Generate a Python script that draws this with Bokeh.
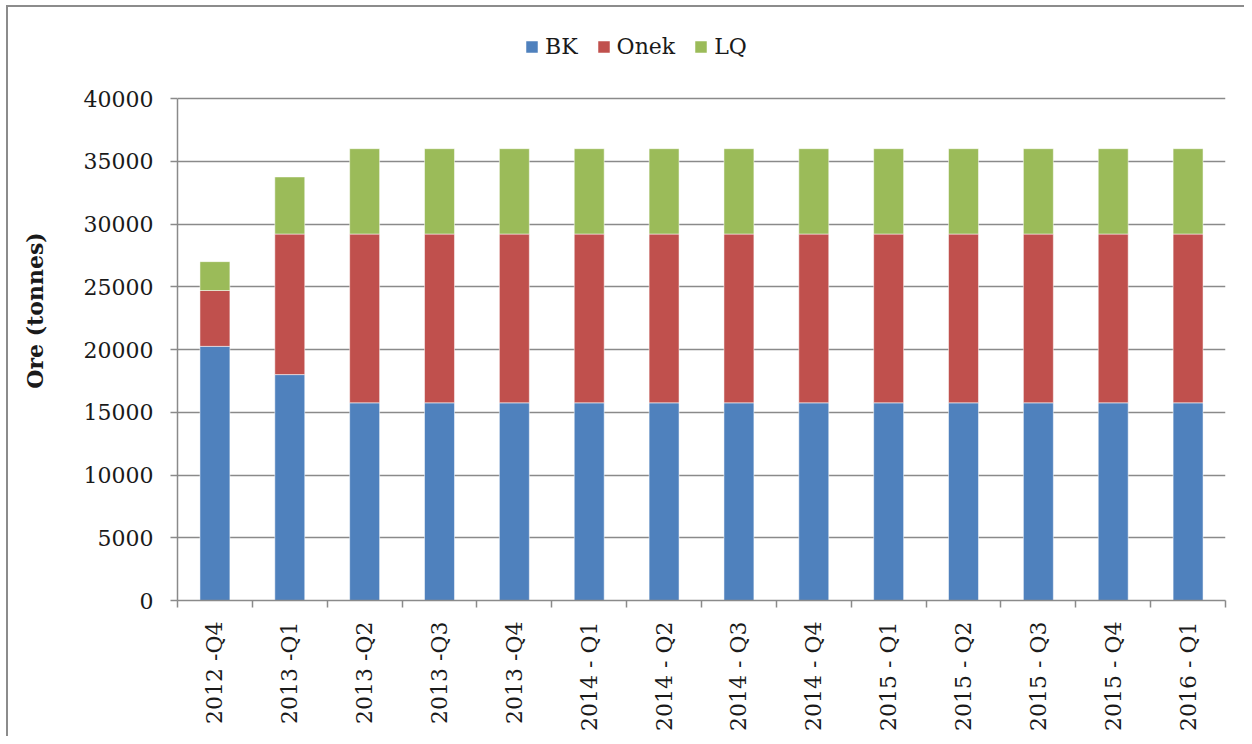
import math
from bokeh.plotting import figure
from bokeh.models import ColumnDataSource, FixedTicker, Range1d, Legend, LegendItem
from bokeh.embed import file_html
from bokeh.resources import INLINE

quarters = ["2012 -Q4", "2013 -Q1", "2013 -Q2", "2013 -Q3", "2013 -Q4",
            "2014 - Q1", "2014 - Q2", "2014 - Q3", "2014 - Q4",
            "2015 - Q1", "2015 - Q2", "2015 - Q3", "2015 - Q4", "2016 - Q1"]
bk = [20250, 18000, 15750, 15750, 15750, 15750, 15750, 15750, 15750, 15750, 15750, 15750, 15750, 15750]
onek = [4450, 11200, 13450, 13450, 13450, 13450, 13450, 13450, 13450, 13450, 13450, 13450, 13450, 13450]
lq = [2300, 4550, 6800, 6800, 6800, 6800, 6800, 6800, 6800, 6800, 6800, 6800, 6800, 6800]
series = ["BK", "Onek", "LQ"]
colors = ["#4F81BD", "#C0504D", "#9BBB59"]
y_ticks = [0, 5000, 10000, 15000, 20000, 25000, 30000, 35000, 40000]

xs = [i + 0.5 for i in range(len(quarters))]
src = ColumnDataSource(dict(x=xs, BK=bk, Onek=onek, LQ=lq))

FONT = "DejaVu Serif"
GRID = "#8a8a8a"
TXT = "#1a1a1a"

# frame spans extra room above 40000 so the legend can sit inside it
PLOT_H = 502      # pixel height of 0..40000
EXTRA = 78        # pixels above 40000 for the legend
y_top = y_ticks[-1] * (PLOT_H + EXTRA) / PLOT_H

p = figure(width=1244, height=736, output_backend="svg", toolbar_location=None,
           x_range=Range1d(0, len(quarters)), y_range=Range1d(0, y_top),
           min_border_left=177, min_border_right=19, min_border_top=98 - EXTRA,
           min_border_bottom=136)
p.styles = {"background": "linear-gradient(#8c8c8c, #8c8c8c) 6px 5px / 2px 100% no-repeat, "
                          "linear-gradient(#8c8c8c, #8c8c8c) 6px 5px / 100% 2px no-repeat, white"}
p.outline_line_color = None
p.background_fill_color = "white"
p.border_fill_alpha = 0

rs = p.vbar_stack(series, x="x", width=0.4, source=src, fill_color=colors,
                  line_color="white", line_alpha=0.5, line_width=1)

# x axis
xa = p.xaxis[0]
xa.ticker = FixedTicker(ticks=xs, minor_ticks=list(range(len(quarters) + 1)))
xa.major_label_overrides = {x: q for x, q in zip(xs, quarters)}
xa.major_label_orientation = math.pi / 2
xa.major_tick_in = 0
xa.major_tick_out = 0
xa.major_tick_line_color = None
xa.minor_tick_in = 0
xa.minor_tick_out = 7
xa.minor_tick_line_color = GRID
xa.minor_tick_line_width = 1.5
xa.axis_line_color = GRID
xa.axis_line_width = 1.5
xa.major_label_standoff = 14
xa.major_label_text_font = FONT
xa.major_label_text_font_size = "22px"
xa.major_label_text_color = TXT

# y axis
ya = p.yaxis[0]
ya.ticker = FixedTicker(ticks=y_ticks)
ya.bounds = (y_ticks[0], y_ticks[-1])
ya.major_tick_in = 0
ya.major_tick_out = 7
ya.major_tick_line_color = GRID
ya.major_tick_line_width = 1.5
ya.minor_tick_line_color = None
ya.axis_line_color = GRID
ya.axis_line_width = 1.5
ya.major_label_standoff = 17
ya.major_label_text_font = FONT
ya.major_label_text_font_size = "22px"
ya.major_label_text_color = TXT
ya.axis_label = "Ore (tonnes)"
ya.axis_label_text_font = FONT
ya.axis_label_text_font_style = "bold"
ya.axis_label_text_font_size = "22px"
ya.axis_label_text_color = TXT
ya.axis_label_standoff = 33

p.xgrid.visible = False
p.ygrid.ticker = FixedTicker(ticks=y_ticks)
p.ygrid.grid_line_color = GRID
p.ygrid.grid_line_width = 1.5

legend = Legend(items=[LegendItem(label=s, renderers=[r]) for s, r in zip(series, rs)],
                orientation="horizontal", location=(347, 541),
                glyph_width=15, glyph_height=15, label_standoff=6, spacing=18,
                padding=0, margin=0, border_line_color=None, background_fill_alpha=0,
                label_text_font=FONT, label_text_font_size="22px", label_text_color=TXT)
p.add_layout(legend)

open("out.html", "w").write(file_html(p, INLINE))
